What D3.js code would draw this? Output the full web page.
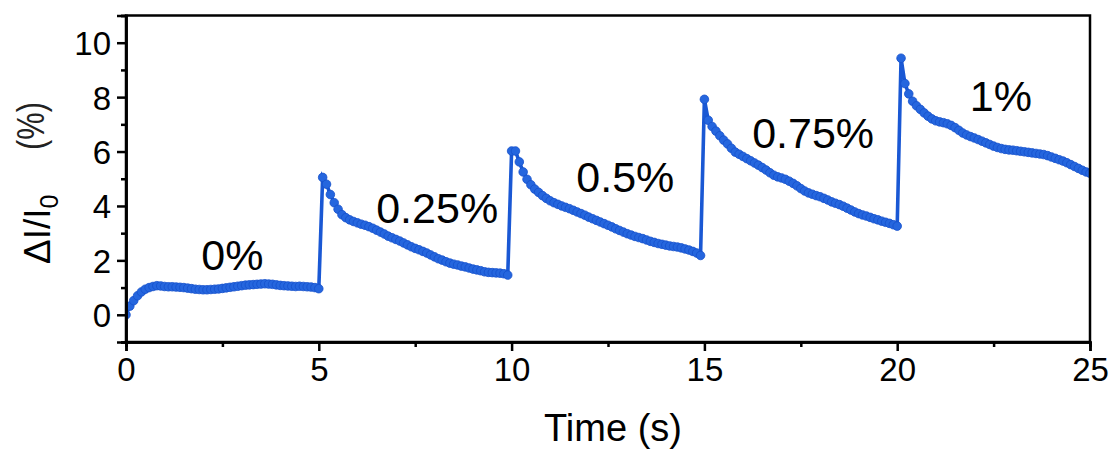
<!DOCTYPE html>
<html>
<head>
<meta charset="utf-8">
<script src="https://cdn.jsdelivr.net/npm/d3@7"></script>
<style>
  body { margin: 0; background: #fff; }
  text { font-family: Arial, "Liberation Sans", sans-serif; fill: #000; }
</style>
</head>
<body>
<svg width="1112" height="450"></svg>
<script>
(function () {

  // sampled response, one array per step (0.1 s between samples)
  const step = 0.1;
  const segStart = [0, 5.1, 10.0, 15.0, 20.1];

  const seg0 = [0.00, 0.32, 0.52, 0.70, 0.84, 0.94, 1.00, 1.04, 1.07, 1.06,
    1.04, 1.03, 1.03, 1.02, 1.01, 1.00, 0.98, 0.96, 0.94, 0.93,
    0.92, 0.92, 0.93, 0.94, 0.95, 0.97, 0.99, 1.01, 1.03, 1.05,
    1.07, 1.09, 1.10, 1.11, 1.12, 1.13, 1.14, 1.13, 1.12, 1.10,
    1.08, 1.07, 1.06, 1.05, 1.04, 1.05, 1.04, 1.03, 1.02, 1.00, 0.96];

  const seg1 = [5.05, 4.80, 4.42, 4.12, 3.88, 3.68, 3.57, 3.49, 3.43,
    3.38, 3.33, 3.29, 3.24, 3.18, 3.11, 3.04, 2.97, 2.89, 2.83,
    2.77, 2.71, 2.64, 2.57, 2.50, 2.44, 2.39, 2.33, 2.27, 2.20,
    2.13, 2.06, 2.01, 1.95, 1.90, 1.86, 1.83, 1.79, 1.76, 1.72,
    1.68, 1.65, 1.62, 1.58, 1.56, 1.55, 1.54, 1.53, 1.51, 1.46];

  const seg2 = [6.02, 6.02, 5.62, 5.25, 4.98, 4.78, 4.62, 4.50, 4.38, 4.28,
    4.19, 4.12, 4.06, 4.00, 3.95, 3.90, 3.84, 3.78, 3.72, 3.66,
    3.59, 3.53, 3.47, 3.41, 3.35, 3.29, 3.23, 3.16, 3.10, 3.04,
    2.98, 2.93, 2.88, 2.84, 2.80, 2.75, 2.70, 2.66, 2.62, 2.59,
    2.56, 2.53, 2.51, 2.49, 2.46, 2.42, 2.38, 2.33, 2.27, 2.18];

  const seg3 = [7.92, 7.15, 6.92, 6.75, 6.58, 6.42, 6.28, 6.12, 5.98, 5.90,
    5.82, 5.74, 5.66, 5.58, 5.50, 5.41, 5.32, 5.22, 5.13, 5.07,
    5.03, 4.98, 4.91, 4.83, 4.74, 4.64, 4.55, 4.48, 4.43, 4.38,
    4.34, 4.28, 4.22, 4.15, 4.10, 4.05, 3.99, 3.92, 3.85, 3.78,
    3.72, 3.67, 3.63, 3.58, 3.53, 3.49, 3.44, 3.40, 3.36, 3.31, 3.26];

  const seg4 = [9.43, 8.50, 8.12, 7.85, 7.68, 7.55, 7.42, 7.30, 7.20,
    7.13, 7.09, 7.06, 7.02, 6.96, 6.88, 6.78, 6.68, 6.61, 6.55,
    6.50, 6.44, 6.38, 6.32, 6.26, 6.20, 6.15, 6.11, 6.08, 6.06,
    6.05, 6.03, 6.01, 5.99, 5.97, 5.95, 5.93, 5.91, 5.89, 5.85,
    5.80, 5.75, 5.70, 5.65, 5.59, 5.52, 5.45, 5.38, 5.31, 5.25, 5.20];

  const strainLabels = ["0%", "0.25%", "0.5%", "0.75%", "1%"];
  const labelAt = [[2.76, 2.21], [8.07, 3.93], [12.95, 5.07], [17.82, 6.70], [22.69, 8.05]];

  const xTicks = [0, 5, 10, 15, 20, 25];
  const xMinor = [2.5, 7.5, 12.5, 17.5, 22.5];
  const yTicks = [0, 2, 4, 6, 8, 10];
  const yMinor = [-1, 1, 3, 5, 7, 9, 11];

  const blue = "#1a58d4";

  const svg = d3.select("svg");
  const left = 126, right = 1090, top = 15.5, bottom = 342;

  const x = d3.scaleLinear().domain([0, 25]).range([left, right]);
  const y = d3.scaleLinear().domain([-1, 11]).range([bottom, top]);

  const points = [];
  [seg0, seg1, seg2, seg3, seg4].forEach((seg, k) => {
    seg.forEach((v, i) => points.push({ t: segStart[k] + i * step, v }));
  });

  svg.append("clipPath").attr("id", "plot")
    .append("rect")
    .attr("x", left).attr("y", top)
    .attr("width", right - left).attr("height", bottom - top);

  const plot = svg.append("g").attr("clip-path", "url(#plot)");

  plot.append("path")
    .datum(points)
    .attr("fill", "none")
    .attr("stroke", blue)
    .attr("stroke-width", 3.6)
    .attr("d", d3.line().x(d => x(d.t)).y(d => y(d.v)));

  plot.selectAll("circle")
    .data(points)
    .enter().append("circle")
    .attr("cx", d => x(d.t))
    .attr("cy", d => y(d.v))
    .attr("r", 4.3)
    .attr("fill", "#2566de")
    .attr("stroke", "#1550cc")
    .attr("stroke-width", 0.8);

  // frame
  svg.append("rect")
    .attr("x", left).attr("y", top)
    .attr("width", right - left).attr("height", bottom - top)
    .attr("fill", "none")
    .attr("stroke", "#000")
    .attr("stroke-width", 2.5);

  const xAxis = svg.append("g")
    .attr("transform", `translate(0,${bottom})`)
    .call(d3.axisBottom(x).tickValues(xTicks).tickSize(9).tickPadding(6).tickFormat(d3.format("d")));
  svg.append("g")
    .attr("transform", `translate(0,${bottom})`)
    .call(d3.axisBottom(x).tickValues(xMinor).tickSize(5).tickFormat(""));

  const yAxis = svg.append("g")
    .attr("transform", `translate(${left},0)`)
    .call(d3.axisLeft(y).tickValues(yTicks).tickSize(9).tickPadding(6).tickFormat(d3.format("d")));
  svg.append("g")
    .attr("transform", `translate(${left},0)`)
    .call(d3.axisLeft(y).tickValues(yMinor).tickSize(5).tickFormat(""));

  svg.selectAll(".domain").attr("stroke-width", 2.5);
  svg.selectAll(".tick line").attr("stroke-width", 2.5);
  svg.selectAll(".tick text").style("font-size", "33px").attr("font-family", null);
  yAxis.selectAll(".tick text").attr("dy", "0.36em");
  xAxis.selectAll(".tick text").attr("dy", "0.72em");

  // step labels
  svg.selectAll(".strain")
    .data(strainLabels)
    .enter().append("text")
    .attr("class", "strain")
    .attr("x", (d, i) => x(labelAt[i][0]))
    .attr("y", (d, i) => y(labelAt[i][1]))
    .attr("text-anchor", "middle")
    .attr("dy", "0.36em")
    .style("font-size", "43px")
    .text(d => d);

  svg.append("text")
    .attr("x", 613)
    .attr("y", 441)
    .attr("text-anchor", "middle")
    .style("font-size", "38px")
    .text("Time (s)");

  // y title: quantity and unit are set apart
  const yl = svg.append("text")
    .attr("transform", "translate(50,264) rotate(-90)")
    .attr("text-anchor", "start")
    .style("font-size", "37px");
  yl.append("tspan").text("ΔI/I");
  yl.append("tspan").attr("dy", 8).style("font-size", "25px").text("0");

  svg.append("text")
    .attr("transform", "translate(44,126) rotate(-90)")
    .attr("text-anchor", "middle")
    .attr("textLength", 48)
    .attr("lengthAdjust", "spacingAndGlyphs")
    .style("font-size", "38px")
    .style("fill", "#222")
    .text("(%)");

}());
</script>
</body>
</html>
